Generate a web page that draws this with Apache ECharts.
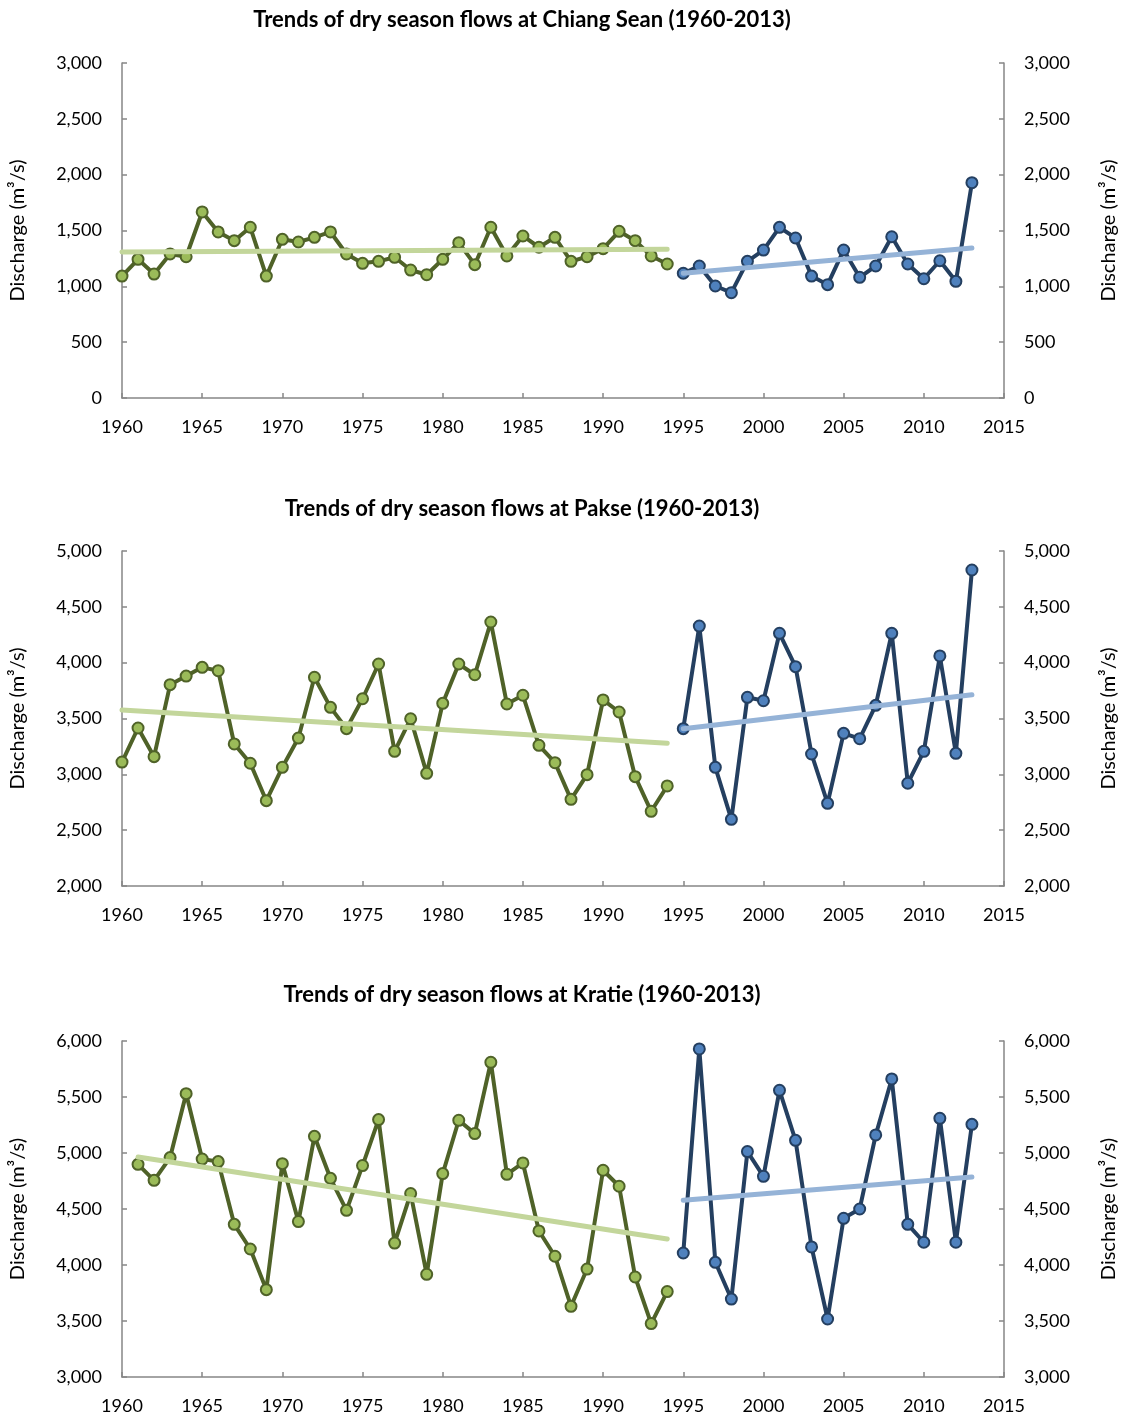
<!DOCTYPE html>
<html>
<head>
<meta charset="utf-8">
<script src="https://cdn.jsdelivr.net/npm/echarts@6/dist/echarts.min.js"></script>
<style>
  html, body { margin: 0; padding: 0; background: #ffffff; }
  #chart { width: 1129px; height: 1418px; }
</style>
</head>
<body>
<div id="chart"></div>
<script>
// Dry-season mean discharge (m3/s) per year, split into pre-1995 and 1995-2013 periods.
const chiangSeanEarlyYears = [1960, 1994];
const chiangSeanEarly = [1092, 1242, 1110, 1290, 1265, 1666, 1487, 1409, 1529, 1092,
                         1421, 1397, 1439, 1487, 1290, 1206, 1224, 1260, 1146, 1104,
                         1242, 1391, 1194, 1529, 1272, 1451, 1350, 1439, 1224, 1265,
                         1337, 1493, 1409, 1272, 1200];
const chiangSeanLateYears = [1995, 2013];
const chiangSeanLate = [1117, 1182, 1003, 943, 1224, 1325, 1528, 1433, 1092, 1015,
                        1325, 1081, 1182, 1444, 1200, 1068, 1229, 1045, 1928];
const chiangSeanTrendEarly = [1307, 1332];
const chiangSeanTrendLate = [1117, 1343];

const pakseEarlyYears = [1960, 1994];
const pakseEarly = [3110, 3415, 3158, 3803, 3880, 3958, 3928, 3272, 3099, 2764,
                    3063, 3325, 3869, 3600, 3409, 3677, 3988, 3206, 3498, 3009,
                    3636, 3988, 3892, 4364, 3630, 3708, 3260, 3104, 2776, 2997,
                    3666, 3558, 2979, 2669, 2896];
const pakseLateYears = [1995, 2013];
const pakseLate = [3409, 4328, 3063, 2597, 3690, 3659, 4263, 3964, 3182, 2740,
                   3367, 3319, 3618, 4263, 2920, 3206, 4060, 3188, 4830];
const pakseTrendEarly = [3576, 3278];
const pakseTrendLate = [3409, 3713];

const kratieEarlyYears = [1961, 1994];
const kratieEarly = [4899, 4756, 4959, 5530, 4946, 4923, 4363, 4143, 3780, 4905,
                     4388, 5149, 4774, 4488, 4888, 5298, 4196, 4638, 3917, 4816,
                     5292, 5173, 5810, 4810, 4911, 4304, 4078, 3631, 3964, 4846,
                     4703, 3893, 3477, 3763];
const kratieLateYears = [1995, 2013];
const kratieLate = [4107, 5929, 4024, 3696, 5013, 4792, 5560, 5113, 4161, 3518,
                    4417, 4500, 5161, 5661, 4363, 4203, 5310, 4203, 5256];
const kratieTrendEarly = [4964, 4232];
const kratieTrendLate = [4578, 4786];

// Axis ranges
const yearRange = [1960, 2015];
const chiangSeanRange = [0, 3000];
const pakseRange = [2000, 5000];
const kratieRange = [3000, 6000];

const titles = [
  'Trends of dry season flows at Chiang Sean (1960-2013)',
  'Trends of dry season flows at Pakse (1960-2013)',
  'Trends of dry season flows at Kratie (1960-2013)'
];
const yName = 'Discharge (m\u00b3/s)';

// Layout of the three stacked panels
const panels = [
  { title: titles[0], titleTop: 4, top: 63, height: 335, range: chiangSeanRange,
    early: chiangSeanEarly, earlyYears: chiangSeanEarlyYears, late: chiangSeanLate, lateYears: chiangSeanLateYears,
    trendEarly: chiangSeanTrendEarly, trendLate: chiangSeanTrendLate },
  { title: titles[1], titleTop: 493, top: 551, height: 335, range: pakseRange,
    early: pakseEarly, earlyYears: pakseEarlyYears, late: pakseLate, lateYears: pakseLateYears,
    trendEarly: pakseTrendEarly, trendLate: pakseTrendLate },
  { title: titles[2], titleTop: 979, top: 1041, height: 336, range: kratieRange,
    early: kratieEarly, earlyYears: kratieEarlyYears, late: kratieLate, lateYears: kratieLateYears,
    trendEarly: kratieTrendEarly, trendLate: kratieTrendLate }
];

const FONT = 'Lato';
const AXIS_GREY = '#868686';
const GREEN_LINE = '#4f6228', GREEN_FILL = '#9bbb59', GREEN_TREND = '#c3d69b';
const BLUE_LINE = '#243f60', BLUE_FILL = '#4f81bd', BLUE_TREND = '#95b3d7';

const fmt = v => v.toLocaleString('en-US');
const pairs = (years, values) => values.map((v, k) => [years[0] + k, v]);

function yAxisFor(i, range, side) {
  return {
    gridIndex: i, type: 'value', position: side,
    min: range[0], max: range[1], interval: 500,
    axisLine: { show: true, lineStyle: { color: AXIS_GREY, width: 1.5 } },
    axisTick: { show: true, inside: true, length: 5, lineStyle: { color: AXIS_GREY, width: 1.5 } },
    axisLabel: { color: '#000', fontFamily: FONT, fontSize: 18, margin: 20, formatter: fmt },
    splitLine: { show: false },
    name: yName, nameLocation: 'middle', nameRotate: 90, nameGap: side === 'left' ? 94 : 95,
    nameTextStyle: { color: '#000', fontFamily: FONT, fontSize: 20 }
  };
}

const option = {
  animation: false,
  backgroundColor: '#ffffff',
  title: panels.map(p => ({
    text: p.title, left: 517, top: p.titleTop, textAlign: 'center',
    textStyle: { color: '#000', fontFamily: FONT, fontSize: 22, fontWeight: 'bold' }
  })),
  grid: panels.map(p => ({ left: 122, right: 125, top: p.top, height: p.height, containLabel: false })),
  xAxis: panels.map((p, i) => ({
    gridIndex: i, type: 'value', min: yearRange[0], max: yearRange[1], interval: 5,
    axisLine: { show: true, onZero: false, lineStyle: { color: AXIS_GREY, width: 1.5 } },
    axisTick: { show: true, inside: true, length: 5, lineStyle: { color: AXIS_GREY, width: 1.5 } },
    axisLabel: { color: '#000', fontFamily: FONT, fontSize: 18, margin: 20, formatter: v => String(v) },
    splitLine: { show: false }
  })),
  yAxis: panels.flatMap((p, i) => [yAxisFor(i, p.range, 'left'), yAxisFor(i, p.range, 'right')]),
  series: panels.flatMap((p, i) => [
    {
      type: 'line', xAxisIndex: i, yAxisIndex: i * 2, z: 2,
      data: pairs(p.earlyYears, p.early),
      symbol: 'circle', symbolSize: 11,
      lineStyle: { color: GREEN_LINE, width: 4 },
      itemStyle: { color: GREEN_FILL, borderColor: GREEN_LINE, borderWidth: 2 }
    },
    {
      type: 'line', xAxisIndex: i, yAxisIndex: i * 2, z: 2,
      data: pairs(p.lateYears, p.late),
      symbol: 'circle', symbolSize: 11,
      lineStyle: { color: BLUE_LINE, width: 4 },
      itemStyle: { color: BLUE_FILL, borderColor: BLUE_LINE, borderWidth: 2 }
    },
    {
      type: 'line', xAxisIndex: i, yAxisIndex: i * 2, z: 3, silent: true,
      data: [[p.earlyYears[0], p.trendEarly[0]], [p.earlyYears[1], p.trendEarly[1]]],
      symbol: 'none', lineStyle: { color: GREEN_TREND, width: 5, cap: 'round' }
    },
    {
      type: 'line', xAxisIndex: i, yAxisIndex: i * 2, z: 3, silent: true,
      data: [[p.lateYears[0], p.trendLate[0]], [p.lateYears[1], p.trendLate[1]]],
      symbol: 'none', lineStyle: { color: BLUE_TREND, width: 5, cap: 'round' }
    }
  ])
};

const chart = echarts.init(document.getElementById('chart'), null, { renderer: 'canvas' });
chart.setOption(option);
</script>
</body>
</html>
